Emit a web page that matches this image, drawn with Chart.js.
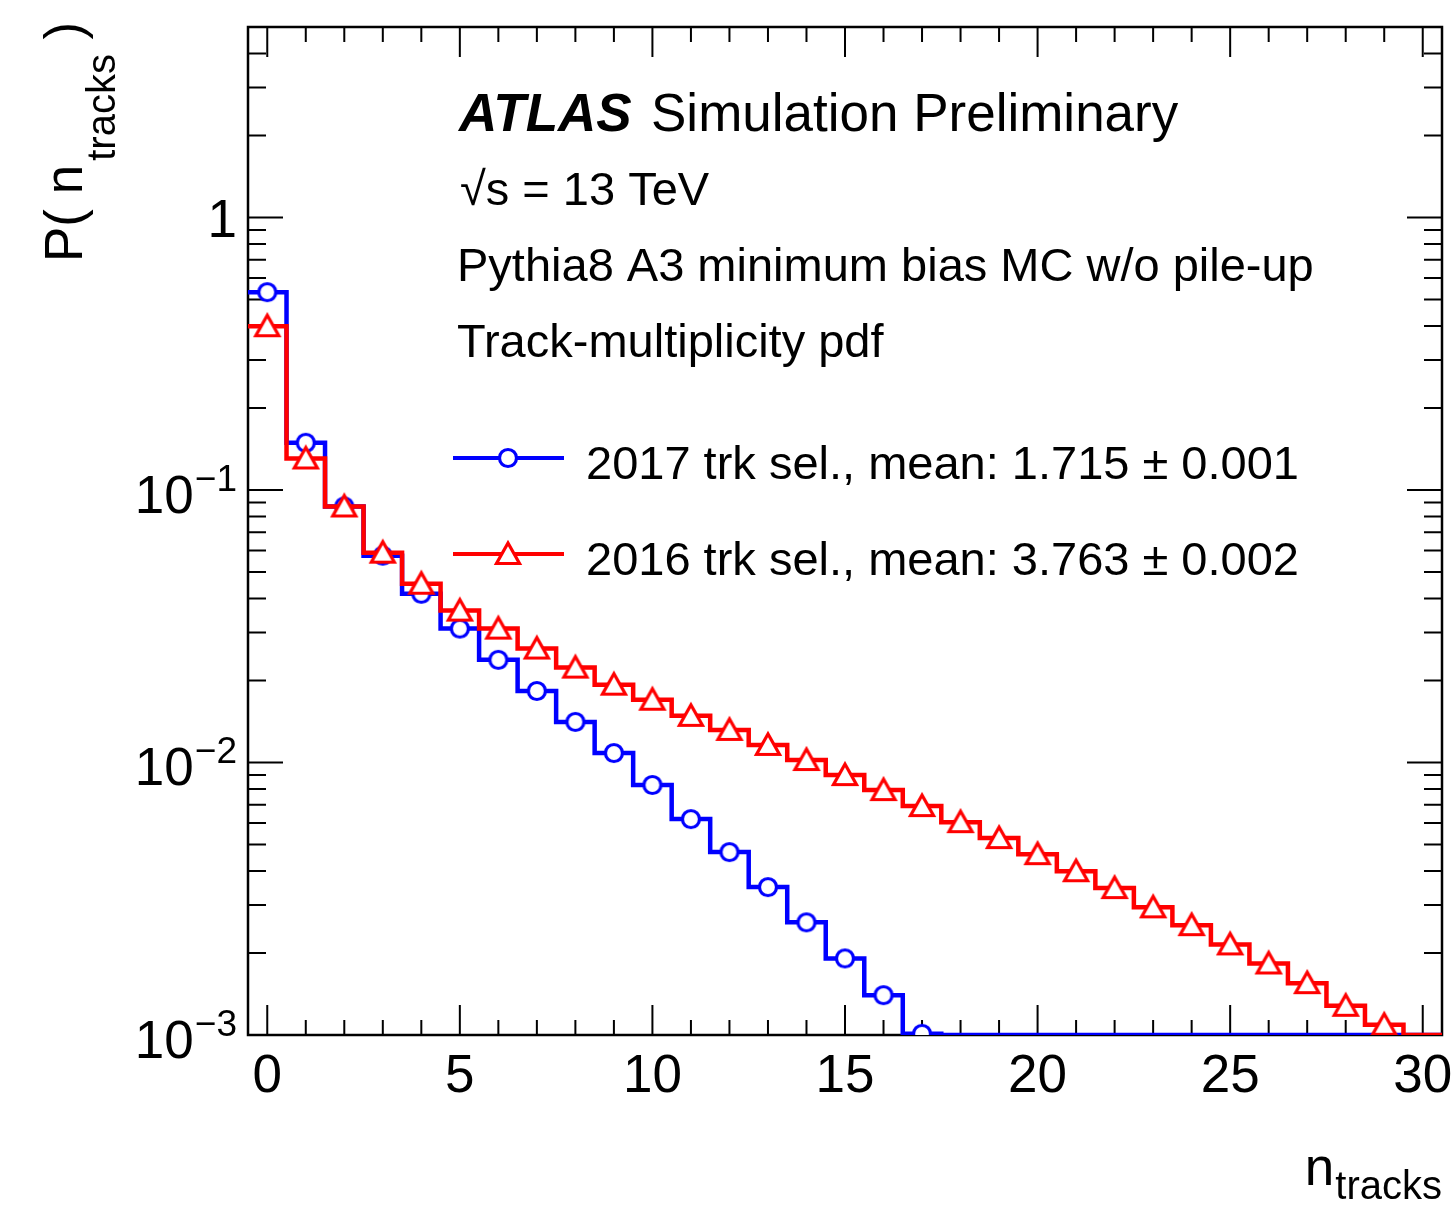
<!DOCTYPE html>
<html>
<head>
<meta charset="utf-8">
<title>Track-multiplicity pdf</title>
<script src="https://cdn.jsdelivr.net/npm/chart.js@4.4.1/dist/chart.umd.min.js"></script>
<style>
  html, body { margin: 0; padding: 0; background: #fff; }
  #chart { display: block; }
</style>
</head>
<body>
<canvas id="chart" width="1456" height="1206"></canvas>
<script>
// bins of the track multiplicity (0 .. 30)
const nTracks = [0, 1, 2, 3, 4, 5, 6, 7, 8, 9, 10, 11, 12, 13, 14, 15,
                 16, 17, 18, 19, 20, 21, 22, 23, 24, 25, 26, 27, 28, 29, 30];

// P(n_tracks), 2017 track selection (bins past 17 sit on the plot floor)
const pdf2017 = [0.532, 0.149, 0.0870, 0.0574, 0.0416, 0.0310, 0.0238, 0.0183,
                 0.01409, 0.01083, 0.00827, 0.00620, 0.00469, 0.00349, 0.00259,
                 0.00191, 0.00140, 0.00101, 0.001, 0.001, 0.001, 0.001, 0.001,
                 0.001, 0.001, 0.001, 0.001, 0.001, 0.001, 0.001, 0.001];

// P(n_tracks), 2016 track selection
const pdf2016 = [0.399, 0.1305, 0.0870, 0.0589, 0.0453, 0.0361, 0.0310, 0.0262,
                 0.0223, 0.0193, 0.0170, 0.01483, 0.01317, 0.01160, 0.01021,
                 0.00899, 0.00792, 0.00692, 0.00604, 0.00528, 0.00461, 0.00399,
                 0.00346, 0.00294, 0.00253, 0.00215, 0.00183, 0.00155, 0.00128,
                 0.00109, 0.001];

const legendLabels = [
    "2017 trk sel., mean: 1.715 \u00b1 0.001",
    "2016 trk sel., mean: 3.763 \u00b1 0.002"
];

const xTickLabels = ["0", "5", "10", "15", "20", "25", "30"];
const xTickLabelValues = [0, 5, 10, 15, 20, 25, 30];
const yTickLabels = [
    { value: 1, base: "1", exp: "" },
    { value: 0.1, base: "10", exp: "\u22121" },
    { value: 0.01, base: "10", exp: "\u22122" },
    { value: 0.001, base: "10", exp: "\u22123" }
];

const X_MIN = -0.5;
const X_MAX = 30.5;
const Y_MIN = 0.001;
const Y_MAX = 5;

const FONT = '"Liberation Sans", Arial, Helvetica, sans-serif';
const BLUE = "#0000ff";
const RED = "#ff0000";

// histogram outline: one point per lower bin edge, plus the closing edge
function histEdges(values) {
    const pts = values.map((v, i) => ({ x: nTracks[i] - 0.5, y: v }));
    pts.push({ x: nTracks[nTracks.length - 1] + 0.5, y: values[values.length - 1] });
    return pts;
}

// markers only for bins that are above the plot floor
function histMarkers(values) {
    return values
        .map((v, i) => ({ x: nTracks[i], y: v }))
        .filter(p => p.y > Y_MIN);
}

function makeMarker(kind, color) {
    const c = document.createElement("canvas");
    c.width = 32;
    c.height = 32;
    const g = c.getContext("2d");
    g.lineWidth = 3.2;
    g.strokeStyle = color;
    g.fillStyle = "#fff";
    g.beginPath();
    if (kind === "circle") {
        g.arc(16, 16, 8.5, 0, Math.PI * 2);
    } else {
        g.moveTo(16, 5);
        g.lineTo(27.5, 25.5);
        g.lineTo(4.5, 25.5);
        g.closePath();
    }
    g.fill();
    g.stroke();
    return c;
}

const circleMarker = makeMarker("circle", BLUE);
const triangleMarker = makeMarker("triangle", RED);

// frame with inward ticks on all four sides
const frameTicks = {
    id: "frameTicks",
    beforeDatasetsDraw(chart) {
        const { ctx, chartArea: a, scales: { x, y } } = chart;
        ctx.save();
        ctx.strokeStyle = "#000";
        ctx.lineWidth = 2;
        ctx.beginPath();
        for (let v = Math.ceil(X_MIN); v <= X_MAX; v++) {
            const px = x.getPixelForValue(v);
            const len = v % 5 === 0 ? 30 : 15;
            ctx.moveTo(px, a.bottom);
            ctx.lineTo(px, a.bottom - len);
            ctx.moveTo(px, a.top);
            ctx.lineTo(px, a.top + len);
        }
        for (let d = -3; d <= 0; d++) {
            for (let m = 1; m <= 9; m++) {
                const v = m * Math.pow(10, d);
                if (v > Y_MAX * 1.0001) continue;
                const py = y.getPixelForValue(v);
                const len = m === 1 ? 35 : 18;
                ctx.moveTo(a.left, py);
                ctx.lineTo(a.left + len, py);
                ctx.moveTo(a.right, py);
                ctx.lineTo(a.right - len, py);
            }
        }
        ctx.stroke();
        ctx.lineWidth = 2.5;
        ctx.strokeRect(a.left, a.top, a.right - a.left, a.bottom - a.top);
        ctx.restore();
    },
    afterDraw(chart) {
        const { ctx, chartArea: a, scales: { x, y } } = chart;
        ctx.save();
        ctx.fillStyle = "#000";
        ctx.textBaseline = "alphabetic";

        // x tick labels
        ctx.font = `53px ${FONT}`;
        ctx.textAlign = "center";
        xTickLabelValues.forEach((v, i) => {
            ctx.fillText(xTickLabels[i], x.getPixelForValue(v), a.bottom + 57);
        });

        // y tick labels, powers of ten with raised exponent
        ctx.textAlign = "right";
        yTickLabels.forEach(t => {
            const py = y.getPixelForValue(t.value);
            const right = a.left - 11;
            if (!t.exp) {
                ctx.font = `53px ${FONT}`;
                ctx.fillText(t.base, right, py + 20);
                return;
            }
            ctx.font = `37px ${FONT}`;
            const ew = ctx.measureText(t.exp).width;
            ctx.fillText(t.exp, right, py + 1);
            ctx.font = `53px ${FONT}`;
            ctx.fillText(t.base, right - ew - 1, py + 23);
        });

        // x axis title: n_tracks
        ctx.textAlign = "right";
        ctx.font = `40px ${FONT}`;
        const subW = ctx.measureText("tracks").width;
        ctx.fillText("tracks", a.right, 1199);
        ctx.font = `53px ${FONT}`;
        ctx.fillText("n", a.right - subW - 1, 1185);

        // y axis title: P( n_tracks )
        ctx.save();
        ctx.translate(82, 262);
        ctx.rotate(-Math.PI / 2);
        ctx.textAlign = "left";
        ctx.font = `53px ${FONT}`;
        ctx.fillText("P( n", 0, 0);
        let tx = ctx.measureText("P( n").width + 4;
        ctx.font = `40px ${FONT}`;
        ctx.fillText("tracks", tx, 33);
        tx += ctx.measureText("tracks").width;
        ctx.font = `53px ${FONT}`;
        ctx.fillText(" )", tx, 0);
        ctx.restore();

        // labels inside the frame
        ctx.textAlign = "left";
        ctx.font = `italic bold 53px ${FONT}`;
        ctx.fillText("ATLAS", 459, 131);
        ctx.font = `53px ${FONT}`;
        ctx.fillText("Simulation Preliminary", 651, 131);
        ctx.font = `47px ${FONT}`;
        ctx.fillText("\u221As = 13 TeV", 460, 205);
        ctx.fillText("Pythia8 A3 minimum bias MC w/o pile-up", 457, 281);
        ctx.fillText("Track-multiplicity pdf", 457, 357);

        // legend
        const rows = [
            { color: BLUE, marker: circleMarker, y: 458 },
            { color: RED, marker: triangleMarker, y: 554 }
        ];
        rows.forEach((r, i) => {
            ctx.strokeStyle = r.color;
            ctx.lineWidth = 4;
            ctx.beginPath();
            ctx.moveTo(453, r.y);
            ctx.lineTo(564, r.y);
            ctx.stroke();
            ctx.drawImage(r.marker, 508 - 16, r.y - 16);
            ctx.fillStyle = "#000";
            ctx.font = `47px ${FONT}`;
            ctx.fillText(legendLabels[i], 586, r.y + 21);
        });
        ctx.restore();
    }
};

const lineStyle = {
    type: "line",
    stepped: "before",
    borderWidth: 4.5,
    pointRadius: 0,
    fill: false
};

new Chart(document.getElementById("chart"), {
    type: "line",
    data: {
        datasets: [
            Object.assign({}, lineStyle, {
                label: legendLabels[1],
                data: histEdges(pdf2016),
                borderColor: RED,
                order: 2
            }),
            {
                type: "scatter",
                label: legendLabels[1] + " markers",
                data: histMarkers(pdf2016),
                pointStyle: triangleMarker,
                showLine: false,
                order: 1
            },
            Object.assign({}, lineStyle, {
                label: legendLabels[0],
                data: histEdges(pdf2017),
                borderColor: BLUE,
                order: 4
            }),
            {
                type: "scatter",
                label: legendLabels[0] + " markers",
                data: histMarkers(pdf2017),
                pointStyle: circleMarker,
                showLine: false,
                order: 3
            }
        ]
    },
    options: {
        responsive: false,
        animation: false,
        devicePixelRatio: 1,
        layout: { padding: { left: 248, top: 27, right: 14, bottom: 171 } },
        plugins: {
            legend: { display: false },
            tooltip: { enabled: false }
        },
        scales: {
            x: { type: "linear", min: X_MIN, max: X_MAX, display: false },
            y: { type: "logarithmic", min: Y_MIN, max: Y_MAX, display: false }
        }
    },
    plugins: [frameTicks]
});
</script>
</body>
</html>
